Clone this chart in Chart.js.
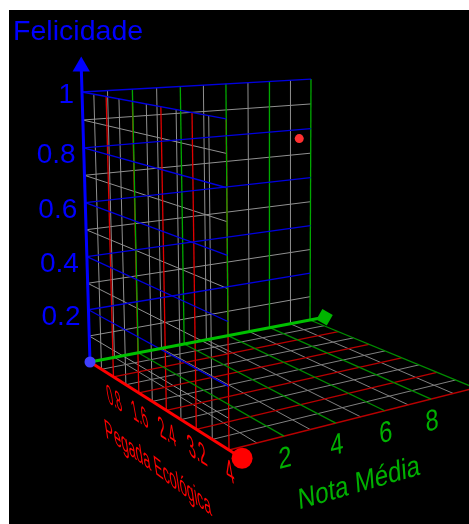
<!DOCTYPE html>
<html><head><meta charset="utf-8">
<style>html,body{margin:0;padding:0;background:#fff}canvas{position:absolute;left:9px;top:10px}</style>
<script src="https://cdn.jsdelivr.net/npm/chart.js@4"></script>
</head><body><canvas id="c" width="460" height="514"></canvas>
<script>
// ---- data ----
const pegadaGrid=[0,0.4,0.8,1.2,1.6,2,2.4,2.8,3.2,3.6,4];
const notaGrid=[0,1,2,3,4,5,6,7,8,9,10];
const felicidadeGrid=[0,0.1,0.2,0.3,0.4,0.5,0.6,0.7,0.8,0.9,1];
const pegadaTicks=[0.8,1.6,2.4,3.2,4];
const notaTicks=[2,4,6,8];
const felicidadeTicks=[0.2,0.4,0.6,0.8,1];
const pointPegada=[0.28];
const pointNota=[8.95];
const pointFelicidade=[0.775];
const PMAX=4,NMAX=10;
// ---- camera: image of the box corners ----
const cam={O:[90,362],R:[229,450],F:[475,388],G:[310,320],Ot:[82,92],Gt:[311,83]};
function buildCamera(){
  const [x0,y0]=cam.O,[x1,y1]=cam.R,[x2,y2]=cam.F,[x3,y3]=cam.G;
  const dx1=x1-x2,dx2=x3-x2,sx=x0-x1+x2-x3,dy1=y1-y2,dy2=y3-y2,sy=y0-y1+y2-y3;
  const den=dx1*dy2-dx2*dy1,g=(sx*dy2-dx2*sy)/den,h=(dx1*sy-sx*dy1)/den;
  const c1=[x1-x0+g*x1,y1-y0+g*y1,g],c2=[x3-x0+h*x3,y3-y0+h*y3,h],c4=[x0,y0,1];
  const Ot=[cam.Ot[0],cam.Ot[1],1];
  const s=(c2[0]-cam.Gt[0]*c2[2])/(cam.Gt[0]-Ot[0]);
  const c3=[s*Ot[0]-c4[0],s*Ot[1]-c4[1],s*Ot[2]-c4[2]];
  return [c1,c2,c3,c4];
}
const M=buildCamera();
function proj(p,n,z){
  const u=p/PMAX,v=n/NMAX,w=[0,1,2].map(i=>M[0][i]*u+M[1][i]*v+M[2][i]*z+M[3][i]);
  return {x:w[0]/w[2],y:w[1]/w[2]};
}
const GRAY='#909090',BLUE='#0000e0',RED='#e00000',GREEN='#00a800',FRED='#b80000',FGREEN='#008c00',FGRAY='#808080';
const MW=1.3;
const isMaj=(arr,v)=>arr.some(t=>Math.abs(t-v)<1e-6);
const line=(a,b,color,w)=>({type:'scatter',showLine:true,data:[a,b],borderColor:color,borderWidth:w||1,pointRadius:0,fill:false,tension:0});
const dot=(pt,color,r,style,rot)=>({type:'scatter',showLine:false,data:[pt],backgroundColor:color,borderColor:color,borderWidth:0,pointRadius:r,pointStyle:style||'circle',pointRotation:rot||0});
const overlay=[];
const minor=[],major=[];
felicidadeGrid.forEach(z=>{ if(z===0) return;
  const m=isMaj(felicidadeTicks,z),t=m?major:minor,c=m?BLUE:GRAY,w=m?MW:1;
  t.push(line(proj(0,0,z),proj(0,NMAX,z),c,w));
  t.push(line(proj(0,0,z),proj(PMAX,0,z),c,w));
});
notaGrid.forEach(n=>{ if(n===0) return;
  const m=n%2===0,t=m?major:minor,w=m?MW:1;
  t.push(line(proj(0,n,0),proj(0,n,1),m?GREEN:GRAY,w));
  t.push(line(proj(0,n,0),proj(PMAX,n,0),m?FGREEN:FGRAY,w));
});
pegadaGrid.forEach(p=>{ if(p===0) return;
  const m=isMaj(pegadaTicks,p),t=m?major:minor,w=m?MW:1;
  t.push(line(proj(p,0,0),proj(p,0,1),m?RED:GRAY,w));
  t.push(line(proj(p,0,0),proj(p,NMAX,0),m?FRED:FGRAY,w));
});
overlay.push(dot(proj(pointPegada[0],pointNota[0],pointFelicidade[0]),'#ff3030',4.5));
overlay.push(dot(proj(0,0,0),'#4040ff',5.5));
overlay.push(dot(proj(0,0,1.09),'#0000ff',10,'triangle'));
overlay.push(dot(proj(4.3,0,0),'#ff0000',10.5));
overlay.push(dot(proj(0,10.75,0),'#00b400',8.5,'rect',30));
overlay.push(line(proj(0,0,0),proj(0,0,1.09),'#0000ff',3));
overlay.push(line(proj(0,0,0),proj(4.2,0,0),'#ff0000',3));
overlay.push(line(proj(0,0,0),proj(0,10.6,0),'#00c000',3));
// ---- text ----
const FONT='28px "Liberation Sans",Arial,sans-serif';
const labelPlugin={id:'labels3d',afterDatasetsDraw(ch){
  const c=ch.ctx,sx=ch.scales.x,sy=ch.scales.y;
  const px=q=>[sx.getPixelForValue(q.x),sy.getPixelForValue(q.y)];
  const draw=(txt,col,q,a,b,cc,d,align)=>{
    const [x,y]=px(q);c.save();c.font=FONT;c.fillStyle=col;c.textAlign=align||'center';c.textBaseline='middle';
    c.transform(a,b,cc,d,x,y);c.fillText(txt,0,0);c.restore();};
  felicidadeTicks.forEach(z=>{const q=proj(0,0,z);
    draw(String(z),'#0000ff',{x:q.x-8,y:q.y+(z===1?3:8)},1,0,0,1,'right');});
  pegadaTicks.forEach(p=>{const q=proj(p,0,0),a=proj(p-.4,0,0),b=proj(p+.4,0,0),k=.0155;
    const h=(q.y-proj(p,0,1).y)/275;
    draw(String(p),'#ff0000',{x:q.x+1,y:q.y+23},k*(b.x-a.x),k*(b.y-a.y),.18*h,h);});
  notaTicks.forEach(n=>{const f=proj(PMAX,n,0);
    draw(String(n),'#00b000',{x:f.x+1,y:f.y+23},.84,-.21,.06,1.05);});
  draw('Felicidade','#0000ff',{x:13,y:32},1.02,0,0,1,'left');
  draw('Pegada Ecológica','#ff0000',{x:158,y:469},.47,.35,.15,1);
  draw('Nota Média','#00b000',{x:359,y:484},.85,-.245,.08,1.03);
}};
new Chart(document.getElementById('c'),{
  type:'scatter',
  data:{datasets:[...overlay,...major,...minor]},
  options:{responsive:false,animation:false,events:[],layout:{padding:0,autoPadding:false},
    plugins:{legend:{display:false},tooltip:{enabled:false},title:{display:false}},
    scales:{x:{type:'linear',min:9,max:469,display:false},y:{type:'linear',min:10,max:524,reverse:true,display:false}}},
  plugins:[{id:'bg',beforeDraw(ch){const c=ch.ctx;c.save();c.fillStyle='#000';c.fillRect(0,0,ch.width,ch.height);c.restore();}},labelPlugin]
});
</script></body></html>
